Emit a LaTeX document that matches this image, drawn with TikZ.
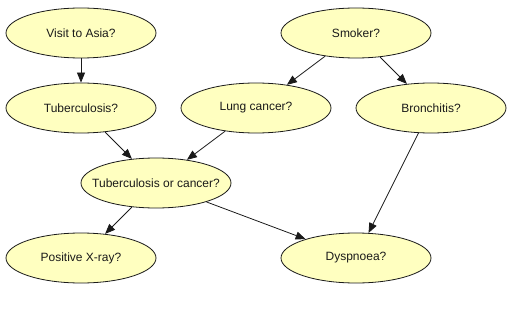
\documentclass[tikz,border=0pt]{standalone}
\usepackage{fontspec}
\setmainfont{Liberation Sans}
\usetikzlibrary{arrows.meta, shapes.geometric}
\definecolor{nodefill}{HTML}{FFFFC0}
\definecolor{inkblack}{HTML}{1A1A1A}

\begin{document}
\begin{tikzpicture}[
    x=1pt, y=-1pt,
    >={Triangle[length=10pt, width=8pt]},
    every node/.style={text=inkblack},
    var/.style={ellipse, draw=inkblack, fill=nodefill, line width=0.8pt,
      minimum width=150pt, minimum height=50pt, inner sep=0pt,
      font=\fontsize{12}{14}\selectfont},
    dep/.style={->, inkblack, line width=0.8pt},
  ]

  % Frame of the picture (pixel grid of the reference)
  \useasboundingbox (0,0) rectangle (518,315);

  % === Variables ===
  \node[var] (asia)   at (81,33)   {Visit to Asia?};
  \node[var] (smoke)  at (356,33)  {Smoker?};
  \node[var] (tub)    at (81,108)  {Tuberculosis?};
  \node[var] (lung)   at (256,108) {Lung cancer?};
  \node[var] (bronc)  at (431,108) {Bronchitis?};
  % long label: keep the same 150pt ellipse
  \node[var, inner xsep=-12pt] (either) at (156,183) {Tuberculosis or cancer?};
  \node[var] (xray)   at (81,258)  {Positive X-ray?};
  \node[var] (dysp)   at (356,258) {Dyspnoea?};

  % === Dependencies ===
  \draw[dep] (asia) -- (tub);
  \draw[dep] (smoke) -- (lung);
  \draw[dep] (smoke) -- (bronc);
  \draw[dep] (tub) -- (either);
  \draw[dep] (lung) -- (either);
  \draw[dep] (either) -- (xray);
  \draw[dep] (either) -- (dysp);
  \draw[dep] (bronc) -- (dysp);

\end{tikzpicture}
\end{document}
